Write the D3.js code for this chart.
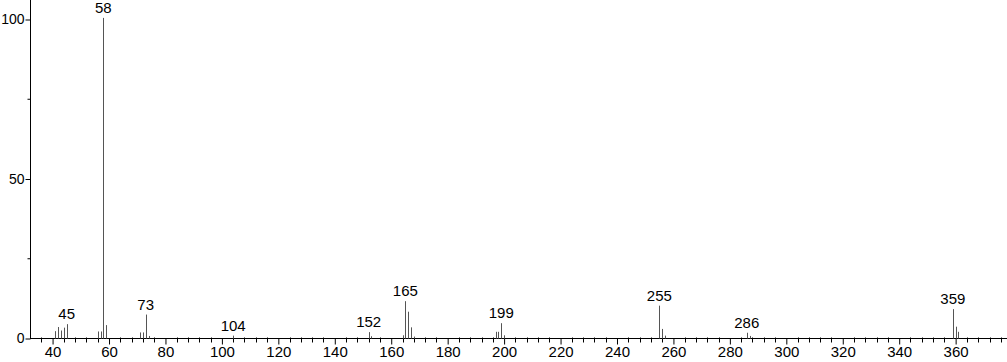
<!DOCTYPE html>
<html>
<head>
<meta charset="utf-8">
<script src="https://cdn.jsdelivr.net/npm/d3@7"></script>
<style>
  body { margin: 0; background: #fff; }
  svg { display: block; font-family: "Liberation Sans", Arial, sans-serif; }
</style>
</head>
<body>
<div id="chart"></div>
<script>
// m/z values and relative intensities
var mz        = [41, 42, 43, 44, 45, 56, 57, 58, 59, 71, 72, 73, 74, 104, 152, 153, 164, 165, 166, 167, 168, 197, 198, 199, 200, 255, 256, 257, 286, 287, 359, 360, 361]
var intensity = [2.3, 3.6, 2.5, 3.4, 4.5, 2.2, 2.2, 100.5, 4.2, 1.9, 1.9, 7.5, 0.8, 0.9, 2.0, 0.7, 1.0, 11.7, 8.4, 3.5, 0.6, 2.1, 2.1, 4.8, 1.0, 10.3, 3.0, 0.9, 1.8, 0.8, 9.2, 3.7, 2.1]
var labelled  = [45, 58, 73, 104, 152, 165, 199, 255, 286, 359]
var xTicks    = [40, 60, 80, 100, 120, 140, 160, 180, 200, 220, 240, 260, 280, 300, 320, 340, 360]
var yTicks    = [0, 50, 100]

var width = 1007, height = 362

var svg = d3.select('#chart').append('svg')
    .attr('width', width)
    .attr('height', height)

var x = d3.scaleLinear().domain([32, 378.2]).range([30, 1007])
var y = d3.scaleLinear().domain([0, 100]).range([338.5, 19.5])

var peaks = mz.map(function(m, i){ return {mz: m, val: intensity[i]} })

// x axis with minor ticks every 4
var xAxis = d3.axisBottom(x)
    .tickValues(xTicks)
    .tickSize(6)
    .tickPadding(2)
    .tickFormat(d3.format('d'))

var gx = svg.append('g')
    .attr('transform', 'translate(0,' + y(0) + ')')
    .call(xAxis)
gx.select('.domain').attr('stroke', '#000').attr('d', 'M30,0H1007')
gx.selectAll('text').attr('font-size', 15).attr('fill', '#000').attr('font-family', null)

var minor = d3.range(36, 377, 4).filter(function(d){ return d % 20 != 0 })
gx.selectAll('.minor')
    .data(minor)
    .enter().append('line')
    .attr('class', 'minor')
    .attr('x1', function(d){ return Math.round(x(d)) + 0.5 })
    .attr('x2', function(d){ return Math.round(x(d)) + 0.5 })
    .attr('y1', -1)
    .attr('y2', 4)
    .attr('stroke', '#000')

// y axis
var yAxis = d3.axisLeft(y)
    .tickValues(yTicks)
    .tickSize(5)
    .tickPadding(1)

var gy = svg.append('g')
    .attr('transform', 'translate(30.5,0)')
    .call(yAxis)
gy.select('.domain').attr('stroke', '#000').attr('d', 'M0,0V' + y(0))
gy.selectAll('text').attr('font-size', 14).attr('fill', '#000').attr('font-family', null)

gy.selectAll('.minor')
    .data([25, 75])
    .enter().append('line')
    .attr('class', 'minor')
    .attr('x1', -3)
    .attr('x2', 0)
    .attr('y1', function(d){ return y(d) })
    .attr('y2', function(d){ return y(d) })
    .attr('stroke', '#000')

// peaks
svg.selectAll('.peak')
    .data(peaks)
    .enter().append('line')
    .attr('class', 'peak')
    .attr('x1', function(d){ return Math.round(x(d.mz)) + 0.5 })
    .attr('x2', function(d){ return Math.round(x(d.mz)) + 0.5 })
    .attr('y1', y(0))
    .attr('y2', function(d){ return y(d.val) })
    .attr('stroke', '#555')

svg.selectAll('.peakLabel')
    .data(peaks.filter(function(d){ return labelled.indexOf(d.mz) >= 0 }))
    .enter().append('text')
    .attr('class', 'peakLabel')
    .attr('x', function(d){ return x(d.mz) })
    .attr('y', function(d){ return y(d.val) - 5 })
    .attr('text-anchor', 'middle')
    .attr('font-size', 15)
    .attr('fill', '#000')
    .text(function(d){ return d.mz })
</script>
</body>
</html>
